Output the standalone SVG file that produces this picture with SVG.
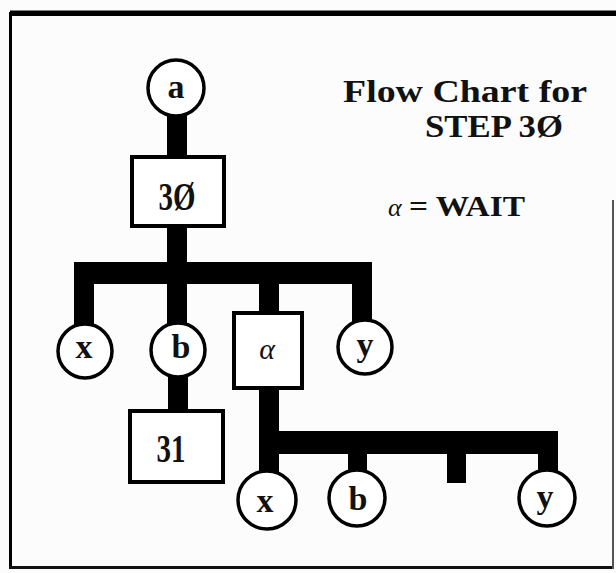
<svg xmlns="http://www.w3.org/2000/svg" width="616" height="573" viewBox="0 0 616 573">
<style>
.bg{fill:#fcfcfc}
.bar{fill:#000}
.nd{fill:#fff;stroke:#000;stroke-width:3.5}
.bx{fill:#fff;stroke:#000;stroke-width:4}
.lb{font-family:"Liberation Serif","Times New Roman",serif;font-weight:bold;font-size:34px;fill:#111;text-anchor:middle}
.bt{font-family:"Liberation Serif","Times New Roman",serif;font-weight:bold;font-size:39px;fill:#111;text-anchor:middle}
.tt{font-family:"Liberation Serif","Times New Roman",serif;font-weight:bold;font-size:32px;fill:#111}
.al{font-family:"Liberation Serif","Times New Roman",serif;font-style:italic;fill:#111}
</style>
<rect class="bg" x="0" y="0" width="616" height="573"/>
<g id="frame">
<rect x="10" y="10.5" width="606" height="5.5" fill="#000"/>
<rect x="9" y="12" width="3" height="557" fill="#000"/>
<rect x="9" y="566" width="605" height="3" fill="#111"/>
<rect x="612" y="200" width="2" height="369" fill="#555"/>
</g>
<g id="connectors">
<rect class="bar" x="167" y="112" width="20" height="46"/>
<rect class="bar" x="167" y="224" width="20" height="100"/>
<rect class="bar" x="74" y="262" width="298" height="22"/>
<rect class="bar" x="74" y="262" width="20" height="64"/>
<rect class="bar" x="259" y="262" width="20" height="52"/>
<rect class="bar" x="352" y="262" width="20" height="60"/>
<rect class="bar" x="168" y="372" width="20" height="40"/>
<rect class="bar" x="259" y="386" width="20" height="86"/>
<rect class="bar" x="259" y="431" width="299" height="23"/>
<rect class="bar" x="348" y="431" width="19" height="41"/>
<rect class="bar" x="447" y="431" width="19" height="52"/>
<rect class="bar" x="538" y="431" width="20" height="41"/>
</g>
<g id="node-a"><circle class="nd" cx="176" cy="88" r="28"/><text class="lb" x="176" y="98">a</text></g>
<g id="node-30"><rect class="bx" x="132" y="157" width="92" height="69"/><text class="bt" x="177" y="210" textLength="37" lengthAdjust="spacingAndGlyphs">3Ø</text></g>
<g id="node-x1"><circle class="nd" cx="85" cy="351" r="27"/><text class="lb" x="84" y="358">x</text></g>
<g id="node-b1"><circle class="nd" cx="178" cy="350" r="27"/><text class="lb" x="181" y="358">b</text></g>
<g id="node-alpha"><rect class="bx" x="234" y="313" width="68" height="75"/><text class="al" x="267" y="359" style="font-size:30px" text-anchor="middle">α</text></g>
<g id="node-y1"><circle class="nd" cx="365" cy="347" r="27"/><text class="lb" x="365" y="356">y</text></g>
<g id="node-31"><rect class="bx" x="130" y="411" width="93" height="71"/><text class="bt" x="171" y="462" textLength="29" lengthAdjust="spacingAndGlyphs">31</text></g>
<g id="node-x2"><circle class="nd" cx="267" cy="500" r="29"/><text class="lb" x="265" y="512">x</text></g>
<g id="node-b2"><circle class="nd" cx="357" cy="498" r="28"/><text class="lb" x="358" y="510">b</text></g>
<g id="node-y2"><circle class="nd" cx="547" cy="498" r="28"/><text class="lb" x="545" y="508">y</text></g>
<g id="title">
<text class="tt" x="343" y="102" textLength="244" lengthAdjust="spacingAndGlyphs">Flow Chart for</text>
<text class="tt" x="425" y="137" textLength="138" lengthAdjust="spacingAndGlyphs">STEP 3Ø</text>
<text class="al" x="388" y="216" style="font-size:26px">α</text>
<text class="tt" x="409" y="216" style="font-size:30px" textLength="116" lengthAdjust="spacingAndGlyphs">= WAIT</text>
</g>
</svg>
